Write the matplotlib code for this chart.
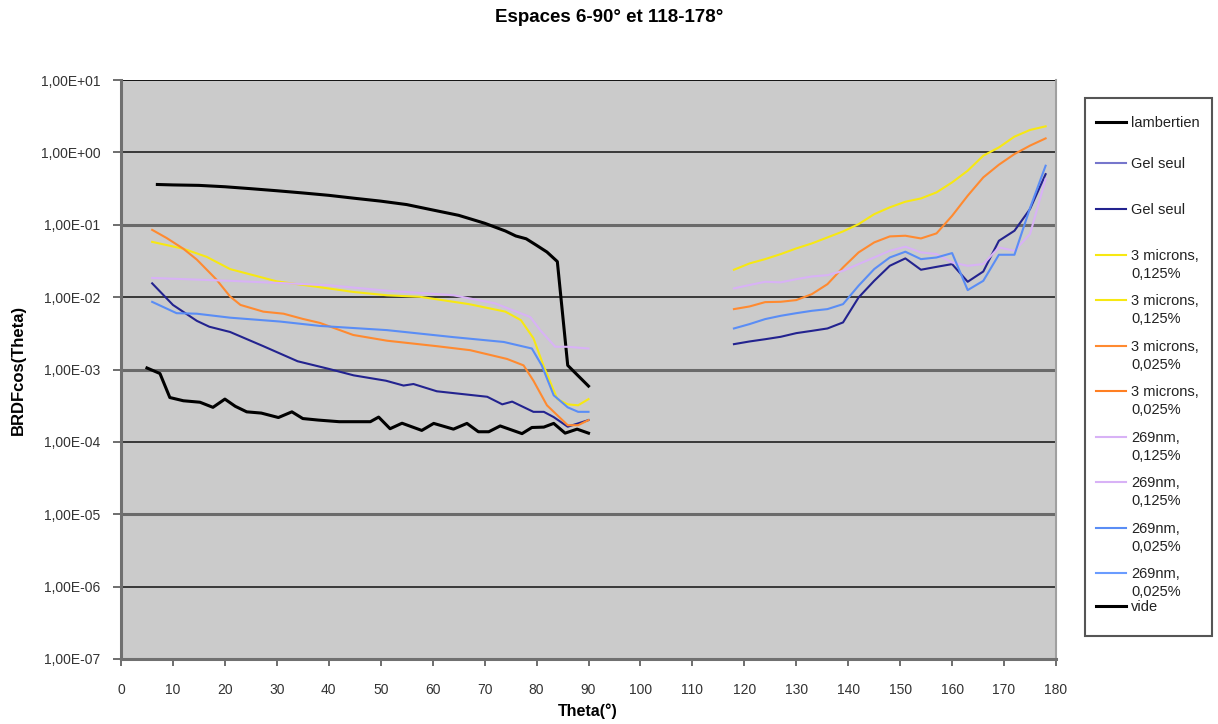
import matplotlib
matplotlib.use('Agg')
import matplotlib.pyplot as plt
from matplotlib.lines import Line2D
from matplotlib.patches import Rectangle

plt.rcParams['font.family'] = ['Liberation Sans', 'DejaVu Sans']

# ---------------- data ----------------
title = "Espaces 6-90° et 118-178°"
x_label = "Theta(°)"
y_label = "BRDFcos(Theta)"
y_ticks = [1e-7, 1e-6, 1e-5, 1e-4, 1e-3, 1e-2, 1e-1, 1e0, 1e1]
y_tick_labels = ["1,00E-07", "1,00E-06", "1,00E-05", "1,00E-04", "1,00E-03",
                 "1,00E-02", "1,00E-01", "1,00E+00", "1,00E+01"]
x_ticks = [0, 10, 20, 30, 40, 50, 60, 70, 80, 90, 100, 110, 120, 130, 140, 150, 160, 170, 180]

theta_lamb = [7, 10, 15, 20, 25, 30, 35, 40, 45, 50, 55, 60, 65, 70, 74, 76, 78, 80, 82, 84, 86, 88, 90]
lambertien = [0.36, 0.355, 0.35, 0.335, 0.315, 0.295, 0.275, 0.255, 0.232, 0.212, 0.19, 0.16,
              0.135, 0.105, 0.082, 0.070, 0.064, 0.052, 0.042, 0.031, 0.00114, 0.00082, 0.00059]

theta_vide = [5, 7.5, 9.4, 12, 15.2, 17.7, 20, 22, 24.2, 27, 30.3, 32.9, 35, 38, 42, 46, 48, 49.6,
              51.8, 54.1, 57.9, 60.2, 64, 66.6, 68.8, 70.8, 73, 77.2, 79.1, 81.4, 83.3, 85.5, 87.8, 90]
vide = [0.00105, 0.00088, 0.00041, 0.00037, 0.000353, 0.0003, 0.00039, 0.00031, 0.00026, 0.00025,
        0.000217, 0.00026, 0.00021, 0.0002, 0.00019, 0.00019, 0.00019, 0.00022, 0.000152, 0.000181,
        0.000144, 0.00018, 0.00015, 0.00018, 0.000138, 0.000138, 0.000166, 0.00013, 0.000158,
        0.00016, 0.00018, 0.000132, 0.00015, 0.000132]

theta_gel_left = [6, 10, 14.6, 17, 21, 27.4, 34, 40, 44.8, 51, 54.4, 56.3, 60.8, 70.5, 73.4, 75.3,
                  79.4, 81.4, 83.3, 86, 90]
gel_left = [0.0155, 0.0078, 0.0047, 0.0039, 0.0033, 0.0021, 0.0013, 0.00102, 0.00083, 0.0007,
            0.0006, 0.00063, 0.0005, 0.00042, 0.00033, 0.00036, 0.00026, 0.00026, 0.00022,
            0.000162, 0.0002]

theta_y125_left = [6, 12, 16.5, 21, 30, 38, 44.7, 51.2, 57.6, 67, 74, 77, 79.4, 81.4, 84, 86, 88, 90]
y125_left = [0.058, 0.0466, 0.036, 0.0244, 0.0165, 0.0138, 0.0118, 0.0106, 0.0101, 0.0080,
             0.0063, 0.0048, 0.0027, 0.0011, 0.00039, 0.00033, 0.00032, 0.00039]

theta_o025_left = [6, 8.8, 12, 14.6, 18.4, 21, 23, 27.4, 31.3, 35, 38.3, 44.7, 51.2, 60.8, 67.2,
                   74.3, 77.5, 79.4, 82, 86, 88, 90]
o025_left = [0.085, 0.0655, 0.0466, 0.033, 0.0174, 0.0102, 0.0078, 0.0063, 0.0059, 0.005, 0.0044,
             0.003, 0.0025, 0.0021, 0.00185, 0.0014, 0.00114, 0.0007, 0.00032, 0.00017, 0.00017,
             0.0002]

theta_l125_left = [6, 21, 32, 40, 51, 64, 72, 78.8, 80.7, 83.6, 86, 90]
l125_left = [0.0184, 0.0168, 0.0155, 0.0146, 0.0123, 0.0106, 0.0082, 0.0053, 0.0035, 0.00206,
             0.00206, 0.00195]

theta_b025_left = [6, 10.7, 14.6, 21, 30.6, 38.3, 51.2, 64, 73.7, 79.1, 81, 83.3, 86, 88, 90]
b025_left = [0.0086, 0.0060, 0.0059, 0.0052, 0.0046, 0.0040, 0.0035, 0.0028, 0.0024, 0.00195,
             0.00114, 0.00044, 0.0003, 0.00026, 0.00026]

theta_right = [118, 121, 124, 127, 130, 133, 136, 139, 142, 145, 148, 151, 154, 157, 160, 163,
               166, 169, 172, 175, 178]
gel_right = [0.00224, 0.00244, 0.00262, 0.00283, 0.00318, 0.00342, 0.00369, 0.00447, 0.0099,
             0.0168, 0.0271, 0.0343, 0.0239, 0.0262, 0.0286, 0.0163, 0.0226, 0.060, 0.0826,
             0.165, 0.50]
y125_right = [0.0239, 0.0292, 0.0335, 0.0393, 0.0471, 0.0552, 0.0668, 0.0809, 0.102, 0.140,
              0.174, 0.208, 0.231, 0.280, 0.385, 0.558, 0.90, 1.17, 1.65, 2.04, 2.29]
o025_right = [0.00683, 0.00743, 0.00853, 0.00862, 0.0091, 0.011, 0.0151, 0.0257, 0.0415, 0.057,
              0.069, 0.0705, 0.0647, 0.076, 0.133, 0.252, 0.451, 0.675, 0.948, 1.24, 1.56]
l125_right = [0.0132, 0.0147, 0.0163, 0.0160, 0.0177, 0.0193, 0.0201, 0.0231, 0.0286, 0.0353,
              0.0437, 0.0497, 0.0415, 0.0393, 0.0301, 0.0271, 0.0286, 0.0486, 0.0437, 0.0743,
              0.428]
b025_right = [0.00369, 0.00424, 0.00497, 0.00552, 0.0060, 0.00647, 0.00683, 0.0080, 0.0144,
              0.0244, 0.0353, 0.0424, 0.0335, 0.0353, 0.0406, 0.0125, 0.0168, 0.0385, 0.0385,
              0.17, 0.654]

labels = ["lambertien", "Gel seul", "Gel seul", "3 microns,\n0,125%", "3 microns,\n0,125%",
          "3 microns,\n0,025%", "3 microns,\n0,025%", "269nm,\n0,125%", "269nm,\n0,125%",
          "269nm,\n0,025%", "269nm,\n0,025%", "vide"]

# ---------------- figure ----------------
W, H = 1218, 724
fig = plt.figure(figsize=(W / 100, H / 100), dpi=100)
fig.patch.set_facecolor('white')


def fx(px):
    return px / W


def fy(py):
    return 1 - py / H


ax = fig.add_axes([fx(121), fy(659), fx(1056) - fx(121), fy(80) - fy(659)])
ax.set_facecolor('#cbcbcb')
ax.set_yscale('log')
ax.set_xlim(0, 180)
ax.set_ylim(1e-7, 1e1)
ax.set_yticks(y_ticks)
ax.set_yticklabels(y_tick_labels)
ax.yaxis.set_minor_locator(matplotlib.ticker.NullLocator())
ax.set_xticks(x_ticks)
ax.set_xticklabels([str(v) for v in x_ticks])

# gridlines (alternating rendering like the original)
for i, t in enumerate(y_ticks[1:-1]):
    if i % 2 == 0:
        ax.axhline(t, color='#111111', lw=1.1, zorder=1)
    else:
        ax.axhline(t, color='#6a6a6a', lw=2.2, zorder=1)
ax.axhline(y_ticks[-1], color='#111111', lw=1.4, zorder=1)

for side in ['left', 'bottom']:
    ax.spines[side].set_color('#707070')
    ax.spines[side].set_linewidth(2.2)
ax.spines['right'].set_color('#a0a0a0')
ax.spines['right'].set_linewidth(1.5)
ax.spines['top'].set_visible(False)

ax.tick_params(axis='both', direction='out', color='#555555', width=1.2, labelsize=10,
               labelcolor='#333333')
ax.tick_params(axis='y', length=6, pad=9)
ax.tick_params(axis='x', length=5, pad=12)

navy = '#23238f'
yellow = '#f7e812'
orange = '#ff8a30'
lav = '#d8b2f6'
lblue = '#5a8df5'

lines = []
lines.append(ax.plot(theta_lamb, lambertien, color='black', lw=2.2, zorder=3)[0])
lines.append(ax.plot(theta_gel_left, gel_left, color=navy, lw=1.5, zorder=3)[0])
lines.append(ax.plot(theta_right, gel_right, color=navy, lw=1.5, zorder=3)[0])
lines.append(ax.plot(theta_y125_left, y125_left, color=yellow, lw=1.5, zorder=3)[0])
lines.append(ax.plot(theta_right, y125_right, color=yellow, lw=1.5, zorder=3)[0])
lines.append(ax.plot(theta_o025_left, o025_left, color=orange, lw=1.5, zorder=3)[0])
lines.append(ax.plot(theta_right, o025_right, color=orange, lw=1.5, zorder=3)[0])
lines.append(ax.plot(theta_l125_left, l125_left, color=lav, lw=1.5, zorder=3)[0])
lines.append(ax.plot(theta_right, l125_right, color=lav, lw=1.5, zorder=3)[0])
lines.append(ax.plot(theta_b025_left, b025_left, color=lblue, lw=1.5, zorder=3)[0])
lines.append(ax.plot(theta_right, b025_right, color=lblue, lw=1.5, zorder=3)[0])
lines.append(ax.plot(theta_vide, vide, color='black', lw=2.2, zorder=3)[0])

legend_colors = ['black', '#7676cc', navy, yellow, yellow, orange, '#ff7f22', lav, lav,
                 lblue, '#6a9cff', 'black']

# texts
fig.text(0.5, fy(18), title, ha='center', va='center', fontsize=13.5, fontweight='bold')
fig.text(fx(588), fy(711), x_label, ha='center', va='center', fontsize=11.5, fontweight='bold')
fig.text(fx(18), fy(370), y_label, ha='center', va='center', fontsize=12, fontweight='bold',
         rotation=90)

# legend box
fig.add_artist(Rectangle((fx(1085), fy(636)), fx(1212) - fx(1085), fy(98) - fy(636),
                         transform=fig.transFigure, facecolor='white', edgecolor='#555555',
                         lw=1.5))
entry_y = [122, 163, 209, 255, 300, 346, 391, 437, 482, 528, 573, 606]
for ln, lab, py, col in zip(lines, labels, entry_y, legend_colors):
    fig.add_artist(Line2D([fx(1096), fx(1126)], [fy(py), fy(py)], transform=fig.transFigure,
                          color=col, lw=ln.get_linewidth()))
    fig.text(fx(1131), fy(py - 6), lab, ha='left', va='top', fontsize=10.5, linespacing=1.35,
             color='#222222')

fig.savefig('out.png', dpi=100)
